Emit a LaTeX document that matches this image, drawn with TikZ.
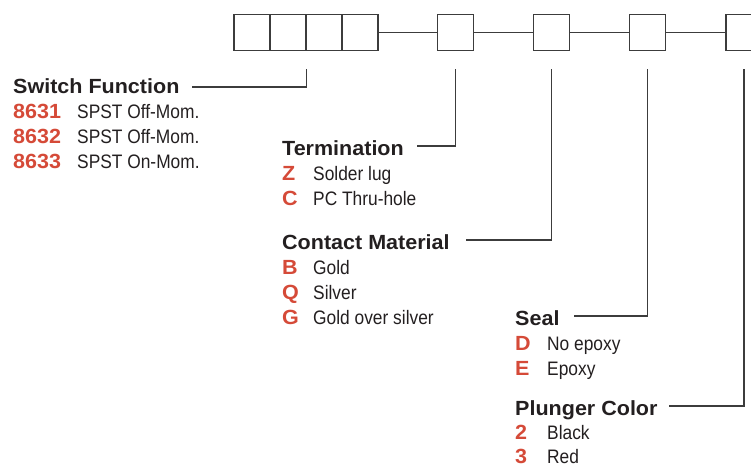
\documentclass[tikz,border=0pt]{standalone}
\usepackage{fontspec}
\setmainfont{Liberation Sans}
\newfontfamily\condfont[FakeStretch=0.89]{Liberation Sans}
\newfontfamily\headfont[FakeStretch=1.05]{Liberation Sans Bold}
\usetikzlibrary{positioning}
\definecolor{cCode}{RGB}{213,74,56}
\definecolor{cInk}{RGB}{35,31,32}
\definecolor{cLine}{RGB}{60,60,60}
\begin{document}
\begin{tikzpicture}[x=1pt, y=1pt, text=cInk,
  slot/.style={rectangle, draw=cLine, line width=1.1pt, minimum size=36pt, inner sep=0pt},
  head/.style={anchor=base west, inner sep=0pt, text height=18pt, text depth=0pt,
    font=\fontsize{20.5}{24}\headfont},
  code/.style={anchor=base west, inner sep=0pt, text=cCode,
    font=\fontsize{20.5}{24}\headfont},
  item/.style={anchor=base west, inner sep=0pt, font=\fontsize{19.5}{23}\condfont},
  lead/.style={draw=cLine, line width=1.1pt}]
\useasboundingbox (0,0) rectangle (751,-464);
% part number slots
\foreach \i/\x in {1/252,2/288,3/324,4/360,5/455.5,6/551.5,7/647.5,8/744}
  \node[slot] (b\i) at (\x,-32.5) {};
\foreach \i/\j in {4/5,5/6,6/7,7/8}
  \draw[lead] (b\i.east) -- (b\j.west);
% option groups
\node[head] (hsw) at (13,-93) {Switch Function};
\foreach \c/\t [count=\n] in {8631/SPST Off-Mom., 8632/SPST Off-Mom., 8633/SPST On-Mom.}{
  \node[code] (swc\n) at (13,{-93-25*\n}) {\c};
  \node[item] (swt\n) at (77,{-93-25*\n}) {\t};
}
\node[head] (hterm) at (282,-155) {Termination};
\foreach \c/\t [count=\n] in {Z/Solder lug, C/PC Thru-hole}{
  \node[code] (tmc\n) at (282,{-155-25*\n}) {\c};
  \node[item] (tmt\n) at (313,{-155-25*\n}) {\t};
}
\node[head] (hcon) at (282,-249) {Contact Material};
\foreach \c/\t [count=\n] in {B/Gold, Q/Silver, G/Gold over silver}{
  \node[code] (cmc\n) at (282,{-249-25*\n}) {\c};
  \node[item] (cmt\n) at (313,{-249-25*\n}) {\t};
}
\node[head] (hseal) at (515,-325) {Seal};
\foreach \c/\t [count=\n] in {D/No epoxy, E/Epoxy}{
  \node[code] (slc\n) at (515,{-325-25*\n}) {\c};
  \node[item] (slt\n) at (547,{-325-25*\n}) {\t};
}
\node[head] (hplg) at (515,-415) {Plunger Color};
\foreach \c/\t [count=\n] in {2/Black, 3/Red}{
  \node[code] (pcc\n) at (515,{-415-24*\n}) {\c};
  \node[item] (pct\n) at (547,{-415-24*\n}) {\t};
}
% leaders
\draw[lead] ([yshift=-18pt]b2.south east) |- ([xshift=12pt,yshift=-3pt]hsw.east);
\draw[lead] ([yshift=-18pt]b5.south) |- ([xshift=13pt]hterm.east);
\draw[lead] ([yshift=-18pt]b6.south) |- ([xshift=16pt]hcon.east);
\draw[lead] ([yshift=-18pt]b7.south) |- ([xshift=14pt]hseal.east);
\draw[lead] ([yshift=-18pt]b8.south) |- ([xshift=11pt]hplg.east);
\end{tikzpicture}
\end{document}
